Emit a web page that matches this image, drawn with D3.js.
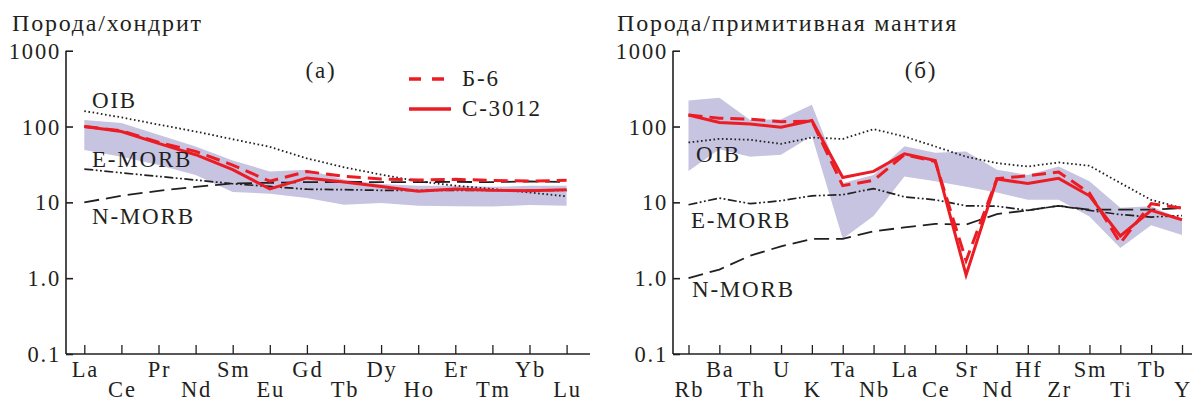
<!DOCTYPE html>
<html>
<head>
<meta charset="utf-8">
<script src="https://cdn.jsdelivr.net/npm/d3@7"></script>
<style>
  body { margin: 0; background: #fff; }
  svg text { font-family: "Liberation Serif", "DejaVu Serif", serif; fill: #231f20; letter-spacing: 1.8px; }
</style>
</head>
<body>
<svg id="chart" width="1194" height="402"></svg>
<script>
// (а) хондрит-нормированные REE
const reeElements = ["La","Ce","Pr","Nd","Sm","Eu","Gd","Tb","Dy","Ho","Er","Tm","Yb","Lu"];
const reeB6     = [100, 88, 62, 47, 31, 19, 25.5, 22, 20.3, 19.7, 20.1, 19.5, 19.1, 19.5];
const reeC3012  = [100, 86, 60, 42.5, 27, 15, 21, 18.5, 16.2, 14, 15, 14.4, 14.2, 14.7];
const reeOIB    = [160, 132, 106, 86, 68, 54, 38, 29, 23.2, 19, 16.6, 15, 13.5, 12];
const reeEMORB  = [27.5, 24.5, 22, 19.7, 17.6, 16.2, 14.9, 14.7, 14.4, 14.4, 14.4, 14.4, 14.4, 14.4];
const reeNMORB  = [10, 12.2, 14.2, 16, 17.8, 18.1, 18.5, 18.6, 18.5, 18.5, 18.6, 18.5, 18.9, 18.5];
const reeBandHi = [122, 111, 78, 54.5, 35.7, 25.6, 27, 20, 17.5, 16.5, 16.5, 16, 16.5, 16.5];
const reeBandLo = [49, 40, 31, 23, 13.7, 13, 11.4, 9.3, 9.8, 9, 8.9, 8.8, 9.2, 9];

// (б) нормированные на примитивную мантию
const pmElements = ["Rb","Ba","Th","U","K","Ta","Nb","La","Ce","Sr","Nd","Hf","Zr","Sm","Ti","Tb","Y"];
const pmB6     = [142, 129, 125, 116, 118, 16.6, 19.5, 42.5, 34.6, 1.7, 20.5, 22.4, 25.1, 13.3, 2.9, 9.6, 8.4];
const pmC3012  = [142, 113, 108, 98, 120, 21.3, 25.6, 43.7, 35.7, 1.1, 20.3, 17.7, 20.7, 12.2, 3.6, 7.85, 5.9];
const pmOIB    = [61.6, 68.9, 66.8, 59, 71.6, 68.5, 92.4, 73.8, 54.6, 40, 32.9, 29.7, 33.6, 30.4, 18, 10.8, 8.4];
const pmEMORB  = [9.3, 11.4, 9.6, 10.5, 12.2, 12.6, 15.2, 11.8, 10.8, 9, 8.9, 7.85, 9, 7.85, 6.9, 6.4, 6.7];
const pmNMORB  = [1.0, 1.3, 1.98, 2.63, 3.29, 3.3, 4.15, 4.67, 5.2, 5.1, 7.0, 7.85, 9.0, 8.0, 8.0, 8.0, 8.4];
const pmBandHi = [220, 240, 122, 125, 193, 18, 23, 55, 45, 47, 27, 23, 29.7, 19, 8.5, 8.9, 5.9];
const pmBandLo = [26, 50, 40, 42.5, 75, 3.3, 6.6, 22, 19, 16, 13.5, 10.8, 10.8, 6.5, 2.5, 5.0, 3.7];

const yTicks = [0.1, 1, 10, 100, 1000];
const yTickLabels = ["0.1", "1.0", "10", "100", "1000"];

const RED = "#ec1c24";
const BAND = "#c6c4e1";
const INK = "#231f20";

const svg = d3.select("#chart");

function drawPanel(opt) {
  const g = svg.append("g");
  const y = d3.scaleLog().domain([0.1, 1000]).range([354, 50.7]);
  const x = d3.scalePoint().domain(opt.cats).range(opt.xRange);

  // полоса
  const area = d3.area()
    .x((d, i) => x(opt.cats[i]))
    .y0(d => y(d[0]))
    .y1(d => y(d[1]));
  g.append("path")
    .datum(opt.bandLo.map((v, i) => [v, opt.bandHi[i]]))
    .attr("d", area)
    .attr("fill", BAND);

  const line = d3.line().x((d, i) => x(opt.cats[i])).y(d => y(d));
  const refLines = [
    { data: opt.oib, dash: "1.6,2.6", w: 1.8 },
    { data: opt.emorb, dash: "9,2.5,1.8,2.5,1.8,2.5", w: 1.7 },
    { data: opt.nmorb, dash: "15,7", w: 1.8 }
  ];
  refLines.forEach(s => {
    g.append("path").datum(s.data).attr("d", line)
      .attr("fill", "none").attr("stroke", INK)
      .attr("stroke-width", s.w).attr("stroke-dasharray", s.dash);
  });

  g.append("path").datum(opt.b6).attr("d", line)
    .attr("fill", "none").attr("stroke", RED).attr("stroke-width", 3)
    .attr("stroke-dasharray", "14,7");
  g.append("path").datum(opt.c3012).attr("d", line)
    .attr("fill", "none").attr("stroke", RED).attr("stroke-width", 3);

  // оси
  const yAxis = g.append("g")
    .attr("transform", `translate(${opt.axisX},0)`)
    .call(d3.axisRight(y).tickValues(yTicks).tickSize(7).tickFormat(""));
  yAxis.select(".domain").attr("d", `M0,${y(0.1)}V${y(1000)}`).attr("stroke", INK).attr("stroke-width", 1.6);
  yAxis.selectAll(".tick line").attr("stroke", INK).attr("stroke-width", 1.6);

  yTicks.forEach((t, i) => {
    g.append("text")
      .attr("x", opt.axisX - 5).attr("y", y(t) + 8)
      .attr("text-anchor", "end").attr("font-size", 22.5)
      .text(yTickLabels[i]);
  });

  const xAxis = g.append("g")
    .attr("transform", `translate(0,${y(0.1)})`)
    .call(d3.axisTop(x).tickSize(9).tickFormat(""));
  xAxis.select(".domain").attr("d", `M${opt.axisX},0H${opt.axisEnd}`).attr("stroke", INK).attr("stroke-width", 1.6);
  xAxis.selectAll(".tick line").attr("stroke", INK).attr("stroke-width", 1.3);

  opt.cats.forEach((c, i) => {
    const top = (i % 2 === 0) === opt.evenTop;
    g.append("text")
      .attr("x", x(c) + 1).attr("y", top ? 377 : 397)
      .attr("text-anchor", "middle").attr("font-size", 22.5)
      .text(c);
  });

  g.append("text").attr("x", opt.titleX).attr("y", 31)
    .attr("font-size", 24).attr("letter-spacing", "2.2px").text(opt.title);
  g.append("text").attr("x", opt.tagX).attr("y", 78)
    .attr("text-anchor", "middle").attr("font-size", 23).text(opt.tag);

  opt.labels.forEach(l => {
    g.append("text").attr("x", l[1]).attr("y", l[2])
      .attr("font-size", 23).attr("letter-spacing", "2.4px").text(l[0]);
  });
  return g;
}

const left = drawPanel({
  cats: reeElements, xRange: [84.3, 566.6], axisX: 66, axisEnd: 590,
  evenTop: true, b6: reeB6, c3012: reeC3012, oib: reeOIB, emorb: reeEMORB, nmorb: reeNMORB,
  bandHi: reeBandHi, bandLo: reeBandLo,
  title: "Порода/хондрит", titleX: 12, tag: "(a)", tagX: 321,
  labels: [["OIB", 92, 108], ["E-MORB", 92, 167], ["N-MORB", 92, 224]]
});

drawPanel({
  cats: pmElements, xRange: [688.5, 1182], axisX: 673, axisEnd: 1192,
  evenTop: false, b6: pmB6, c3012: pmC3012, oib: pmOIB, emorb: pmEMORB, nmorb: pmNMORB,
  bandHi: pmBandHi, bandLo: pmBandLo,
  title: "Порода/примитивная мантия", titleX: 617, tag: "(б)", tagX: 921,
  labels: [["OIB", 696, 162], ["E-MORB", 691, 228], ["N-MORB", 692, 297]]
});

// легенда
const legend = [
  { name: "Б-6", dash: "12,11", y: 79 },
  { name: "С-3012", dash: null, y: 109 }
];
legend.forEach(l => {
  left.append("line").attr("x1", 409).attr("x2", 451).attr("y1", l.y).attr("y2", l.y)
    .attr("stroke", RED).attr("stroke-width", 3.5)
    .attr("stroke-dasharray", l.dash);
  left.append("text").attr("x", 462).attr("y", l.y + 7)
    .attr("font-size", 23).attr("letter-spacing", "2.4px").text(l.name);
});
</script>
</body>
</html>
